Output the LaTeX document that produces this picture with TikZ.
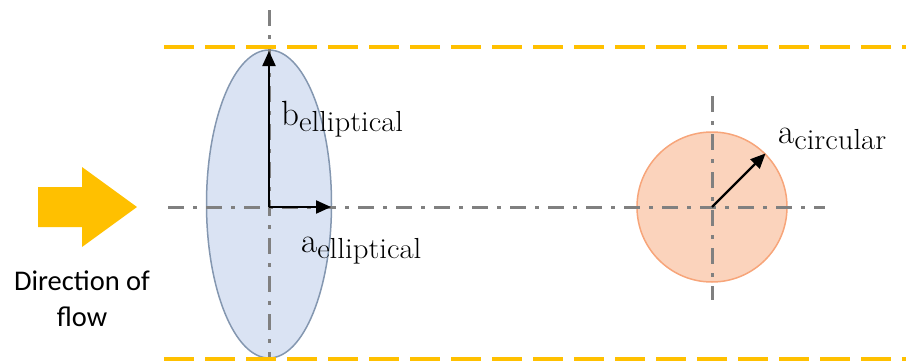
\documentclass[tikz,border=0pt]{standalone}
\usepackage{fontspec}
\usepackage{graphicx}
\newfontfamily\flowfont{Carlito}
\usetikzlibrary{arrows.meta,shapes.geometric}
\definecolor{flowyellow}{HTML}{FFC000}
\definecolor{axisgray}{HTML}{808080}
\definecolor{ellfill}{HTML}{DAE3F3}
\definecolor{elldraw}{HTML}{8497B0}
\definecolor{circfill}{HTML}{FBD3BC}
\definecolor{circdraw}{HTML}{F7A57A}
\tikzset{
  bound/.style={flowyellow, line width=3.5pt, dash pattern=on 30pt off 11pt},
  axisline/.style={axisgray, line width=3pt, dash pattern=on 16pt off 9pt on 4pt off 9pt},
  radius arrow/.style={black, line width=2.2pt, -{Triangle[length=15pt,width=13pt]}},
  mainsym/.style={font=\fontsize{35}{35}\selectfont, inner sep=0pt, anchor=base west},
}
\newcommand{\symlabel}[2]{#1\lower6pt\hbox{\scalebox{1.06}[1]{\fontsize{29}{29}\selectfont #2}}}
\begin{document}
\begin{tikzpicture}[x=1pt,y=-1pt]
\useasboundingbox (0,0) rectangle (906,362);
% flow arrow
\fill[flowyellow] (38,187) -- (82,187) -- (82,167) -- (137,207) -- (82,247) -- (82,227) -- (38,227) -- cycle;
\node[font=\flowfont\fontsize{28.5}{36}\selectfont, align=center, anchor=base] (flowtext) at (82,326) {Direction of\\flow};
% shapes
\node[ellipse, draw=elldraw, fill=ellfill, line width=1.5pt, minimum width=125pt, minimum height=308pt, inner sep=0pt] (E) at (269,204) {};
\node[circle, draw=circdraw, fill=circfill, line width=1.5pt, minimum size=150pt, inner sep=0pt] (C) at (712,207) {};
% centres and axis ends
\coordinate (O) at (269,207);
\coordinate (hl) at (168,207);
\coordinate (hr) at (825,207);
\coordinate (ev1) at (269,10);
\coordinate (ev2) at (269,358);
\coordinate (cv1) at (712,96);
\coordinate (cv2) at (712,300);
\draw[axisline] (hl) -- (hr);
\draw[axisline] (ev1) -- (ev2);
\draw[axisline] (cv1) -- (cv2);
% boundaries
\coordinate (t1) at (164,47);
\coordinate (t2) at (906,47);
\coordinate (b1) at (164,359);
\coordinate (b2) at (906,359);
\draw[bound] (t1) -- (t2);
\draw[bound] (b1) -- (b2);
% radii
\coordinate (Etop) at (269,51);
\coordinate (Eright) at (331,207);
\draw[radius arrow] (O) -- (Etop);
\draw[radius arrow] (O) -- (Eright);
\draw[radius arrow] (C.center) -- (C.north east);
% labels
\node[mainsym] (bl) at (281,125) {\symlabel{b}{elliptical}};
\node[mainsym] (al) at (301,252) {\symlabel{a}{elliptical}};
\node[mainsym] (cl) at (778,143) {\symlabel{a}{circular}};
\end{tikzpicture}
\end{document}
